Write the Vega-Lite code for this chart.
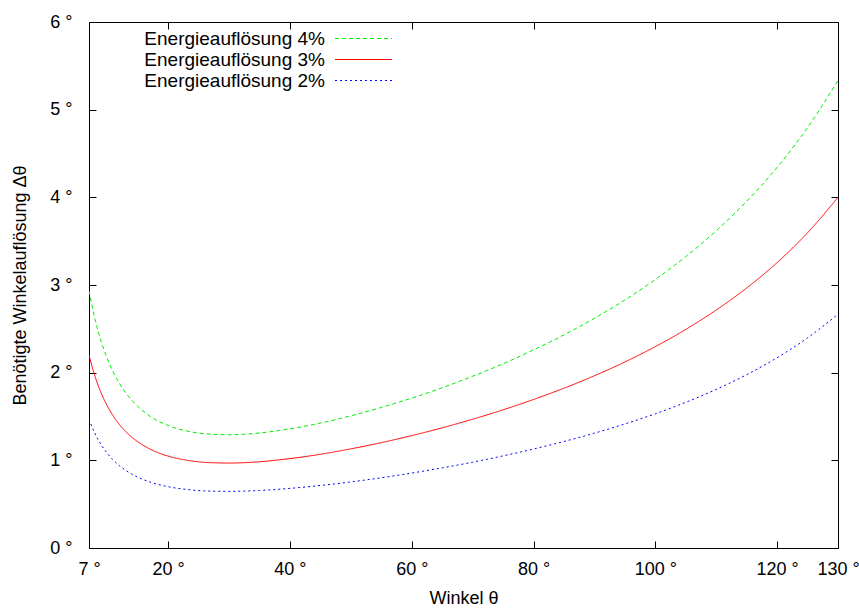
{
  "$schema": "https://vega.github.io/schema/vega-lite/v6.json",
  "width": 749,
  "height": 526,
  "autosize": {"type": "none"},
  "padding": {"left": 89, "top": 22, "right": 21, "bottom": 60},
  "background": "white",
  "config": {
    "font": "Liberation Sans",
    "view": {"stroke": "black", "strokeWidth": 1},
    "axis": {
      "grid": false,
      "domain": false,
      "tickColor": "black",
      "tickSize": 7,
      "tickWidth": 1,
      "offset": -7,
      "labelFont": "Liberation Sans",
      "labelFontSize": 18,
      "labelColor": "black",
      "titleFont": "Liberation Sans",
      "titleFontSize": 18,
      "titleFontWeight": "normal",
      "titleColor": "black"
    },
    "legend": {
      "labelFont": "Liberation Sans",
      "labelFontSize": 19,
      "labelColor": "black",
      "labelLimit": 0,
      "padding": 0
    }
  },
  "data": {
    "values": [
      {"theta": 7, "value": 2.933, "series": "Energieauflösung 4%"},
      {"theta": 8, "value": 2.607, "series": "Energieauflösung 4%"},
      {"theta": 9, "value": 2.356, "series": "Energieauflösung 4%"},
      {"theta": 10, "value": 2.161, "series": "Energieauflösung 4%"},
      {"theta": 11, "value": 2.004, "series": "Energieauflösung 4%"},
      {"theta": 12, "value": 1.877, "series": "Energieauflösung 4%"},
      {"theta": 13, "value": 1.773, "series": "Energieauflösung 4%"},
      {"theta": 14, "value": 1.688, "series": "Energieauflösung 4%"},
      {"theta": 15, "value": 1.616, "series": "Energieauflösung 4%"},
      {"theta": 17, "value": 1.505, "series": "Energieauflösung 4%"},
      {"theta": 20, "value": 1.397, "series": "Energieauflösung 4%"},
      {"theta": 23, "value": 1.336, "series": "Energieauflösung 4%"},
      {"theta": 26, "value": 1.303, "series": "Energieauflösung 4%"},
      {"theta": 30, "value": 1.292, "series": "Energieauflösung 4%"},
      {"theta": 35, "value": 1.312, "series": "Energieauflösung 4%"},
      {"theta": 40, "value": 1.360, "series": "Energieauflösung 4%"},
      {"theta": 45, "value": 1.425, "series": "Energieauflösung 4%"},
      {"theta": 50, "value": 1.508, "series": "Energieauflösung 4%"},
      {"theta": 55, "value": 1.603, "series": "Energieauflösung 4%"},
      {"theta": 60, "value": 1.709, "series": "Energieauflösung 4%"},
      {"theta": 65, "value": 1.828, "series": "Energieauflösung 4%"},
      {"theta": 70, "value": 1.959, "series": "Energieauflösung 4%"},
      {"theta": 75, "value": 2.101, "series": "Energieauflösung 4%"},
      {"theta": 80, "value": 2.259, "series": "Energieauflösung 4%"},
      {"theta": 85, "value": 2.431, "series": "Energieauflösung 4%"},
      {"theta": 90, "value": 2.620, "series": "Energieauflösung 4%"},
      {"theta": 95, "value": 2.829, "series": "Energieauflösung 4%"},
      {"theta": 100, "value": 3.063, "series": "Energieauflösung 4%"},
      {"theta": 105, "value": 3.324, "series": "Energieauflösung 4%"},
      {"theta": 110, "value": 3.619, "series": "Energieauflösung 4%"},
      {"theta": 115, "value": 3.955, "series": "Energieauflösung 4%"},
      {"theta": 120, "value": 4.341, "series": "Energieauflösung 4%"},
      {"theta": 125, "value": 4.795, "series": "Energieauflösung 4%"},
      {"theta": 130, "value": 5.333, "series": "Energieauflösung 4%"},
      {"theta": 7, "value": 2.200, "series": "Energieauflösung 3%"},
      {"theta": 8, "value": 1.955, "series": "Energieauflösung 3%"},
      {"theta": 9, "value": 1.767, "series": "Energieauflösung 3%"},
      {"theta": 10, "value": 1.621, "series": "Energieauflösung 3%"},
      {"theta": 11, "value": 1.503, "series": "Energieauflösung 3%"},
      {"theta": 12, "value": 1.408, "series": "Energieauflösung 3%"},
      {"theta": 13, "value": 1.330, "series": "Energieauflösung 3%"},
      {"theta": 14, "value": 1.266, "series": "Energieauflösung 3%"},
      {"theta": 15, "value": 1.212, "series": "Energieauflösung 3%"},
      {"theta": 17, "value": 1.129, "series": "Energieauflösung 3%"},
      {"theta": 20, "value": 1.048, "series": "Energieauflösung 3%"},
      {"theta": 23, "value": 1.002, "series": "Energieauflösung 3%"},
      {"theta": 26, "value": 0.977, "series": "Energieauflösung 3%"},
      {"theta": 30, "value": 0.969, "series": "Energieauflösung 3%"},
      {"theta": 35, "value": 0.984, "series": "Energieauflösung 3%"},
      {"theta": 40, "value": 1.020, "series": "Energieauflösung 3%"},
      {"theta": 45, "value": 1.069, "series": "Energieauflösung 3%"},
      {"theta": 50, "value": 1.131, "series": "Energieauflösung 3%"},
      {"theta": 55, "value": 1.202, "series": "Energieauflösung 3%"},
      {"theta": 60, "value": 1.282, "series": "Energieauflösung 3%"},
      {"theta": 65, "value": 1.371, "series": "Energieauflösung 3%"},
      {"theta": 70, "value": 1.469, "series": "Energieauflösung 3%"},
      {"theta": 75, "value": 1.576, "series": "Energieauflösung 3%"},
      {"theta": 80, "value": 1.694, "series": "Energieauflösung 3%"},
      {"theta": 85, "value": 1.823, "series": "Energieauflösung 3%"},
      {"theta": 90, "value": 1.965, "series": "Energieauflösung 3%"},
      {"theta": 95, "value": 2.122, "series": "Energieauflösung 3%"},
      {"theta": 100, "value": 2.297, "series": "Energieauflösung 3%"},
      {"theta": 105, "value": 2.493, "series": "Energieauflösung 3%"},
      {"theta": 110, "value": 2.714, "series": "Energieauflösung 3%"},
      {"theta": 115, "value": 2.966, "series": "Energieauflösung 3%"},
      {"theta": 120, "value": 3.256, "series": "Energieauflösung 3%"},
      {"theta": 125, "value": 3.596, "series": "Energieauflösung 3%"},
      {"theta": 130, "value": 4.000, "series": "Energieauflösung 3%"},
      {"theta": 7, "value": 1.467, "series": "Energieauflösung 2%"},
      {"theta": 8, "value": 1.303, "series": "Energieauflösung 2%"},
      {"theta": 9, "value": 1.178, "series": "Energieauflösung 2%"},
      {"theta": 10, "value": 1.081, "series": "Energieauflösung 2%"},
      {"theta": 11, "value": 1.002, "series": "Energieauflösung 2%"},
      {"theta": 12, "value": 0.939, "series": "Energieauflösung 2%"},
      {"theta": 13, "value": 0.887, "series": "Energieauflösung 2%"},
      {"theta": 14, "value": 0.844, "series": "Energieauflösung 2%"},
      {"theta": 15, "value": 0.808, "series": "Energieauflösung 2%"},
      {"theta": 17, "value": 0.753, "series": "Energieauflösung 2%"},
      {"theta": 20, "value": 0.699, "series": "Energieauflösung 2%"},
      {"theta": 23, "value": 0.668, "series": "Energieauflösung 2%"},
      {"theta": 26, "value": 0.651, "series": "Energieauflösung 2%"},
      {"theta": 30, "value": 0.646, "series": "Energieauflösung 2%"},
      {"theta": 35, "value": 0.656, "series": "Energieauflösung 2%"},
      {"theta": 40, "value": 0.680, "series": "Energieauflösung 2%"},
      {"theta": 45, "value": 0.713, "series": "Energieauflösung 2%"},
      {"theta": 50, "value": 0.754, "series": "Energieauflösung 2%"},
      {"theta": 55, "value": 0.801, "series": "Energieauflösung 2%"},
      {"theta": 60, "value": 0.855, "series": "Energieauflösung 2%"},
      {"theta": 65, "value": 0.914, "series": "Energieauflösung 2%"},
      {"theta": 70, "value": 0.979, "series": "Energieauflösung 2%"},
      {"theta": 75, "value": 1.051, "series": "Energieauflösung 2%"},
      {"theta": 80, "value": 1.129, "series": "Energieauflösung 2%"},
      {"theta": 85, "value": 1.215, "series": "Energieauflösung 2%"},
      {"theta": 90, "value": 1.310, "series": "Energieauflösung 2%"},
      {"theta": 95, "value": 1.415, "series": "Energieauflösung 2%"},
      {"theta": 100, "value": 1.531, "series": "Energieauflösung 2%"},
      {"theta": 105, "value": 1.662, "series": "Energieauflösung 2%"},
      {"theta": 110, "value": 1.809, "series": "Energieauflösung 2%"},
      {"theta": 115, "value": 1.977, "series": "Energieauflösung 2%"},
      {"theta": 120, "value": 2.171, "series": "Energieauflösung 2%"},
      {"theta": 125, "value": 2.397, "series": "Energieauflösung 2%"},
      {"theta": 130, "value": 2.667, "series": "Energieauflösung 2%"}
    ]
  },
  "layer": [
    {
      "mark": {"type": "line", "strokeWidth": 1, "interpolate": "monotone", "clip": true},
      "encoding": {
        "x": {
          "field": "theta",
          "type": "quantitative",
          "scale": {"domain": [7, 130], "nice": false, "zero": false},
          "axis": {
            "orient": "bottom",
            "values": [7, 20, 40, 60, 80, 100, 120, 130],
            "labelExpr": "datum.label + ' °'",
            "labelPadding": 12,
            "labelFlush": false,
            "title": "Winkel θ",
            "titlePadding": 11
          }
        },
        "y": {
          "field": "value",
          "type": "quantitative",
          "scale": {"domain": [0, 6], "nice": false},
          "axis": {
            "orient": "left",
            "values": [0, 1, 2, 3, 4, 5, 6],
            "labelExpr": "datum.label + ' °'",
            "labelPadding": 17,
            "labelFlush": false,
            "title": "Benötigte Winkelauflösung Δθ",
            "titlePadding": 20
          }
        },
        "color": {
          "field": "series",
          "type": "nominal",
          "scale": {
            "domain": ["Energieauflösung 4%", "Energieauflösung 3%", "Energieauflösung 2%"],
            "range": ["#00ee00", "#ff0000", "#0000ff"]
          },
          "legend": {
            "title": null,
            "orient": "none",
            "legendX": 265,
            "legendY": 7,
            "symbolType": "M-5.7,0H5.7",
            "symbolSize": 100,
            "symbolStrokeWidth": 1,
            "labelAlign": "right",
            "labelOffset": -48,
            "rowPadding": 1
          }
        },
        "strokeDash": {
          "field": "series",
          "type": "nominal",
          "scale": {
            "domain": ["Energieauflösung 4%", "Energieauflösung 3%", "Energieauflösung 2%"],
            "range": [[4, 3], [1, 0], [2, 3]]
          },
          "legend": {
            "title": null,
            "orient": "none",
            "legendX": 265,
            "legendY": 7,
            "symbolType": "M-5.7,0H5.7",
            "symbolSize": 100,
            "symbolStrokeWidth": 1,
            "labelAlign": "right",
            "labelOffset": -48,
            "rowPadding": 1
          }
        }
      }
    },
    {
      "mark": {"type": "line", "strokeOpacity": 0},
      "encoding": {
        "x": {
          "field": "theta",
          "type": "quantitative",
          "axis": {"orient": "top", "values": [7, 20, 40, 60, 80, 100, 120, 130], "labels": false, "title": null}
        },
        "y": {
          "field": "value",
          "type": "quantitative",
          "axis": {"orient": "right", "values": [0, 1, 2, 3, 4, 5, 6], "labels": false, "title": null}
        },
        "detail": {"field": "series"}
      }
    }
  ]
}
